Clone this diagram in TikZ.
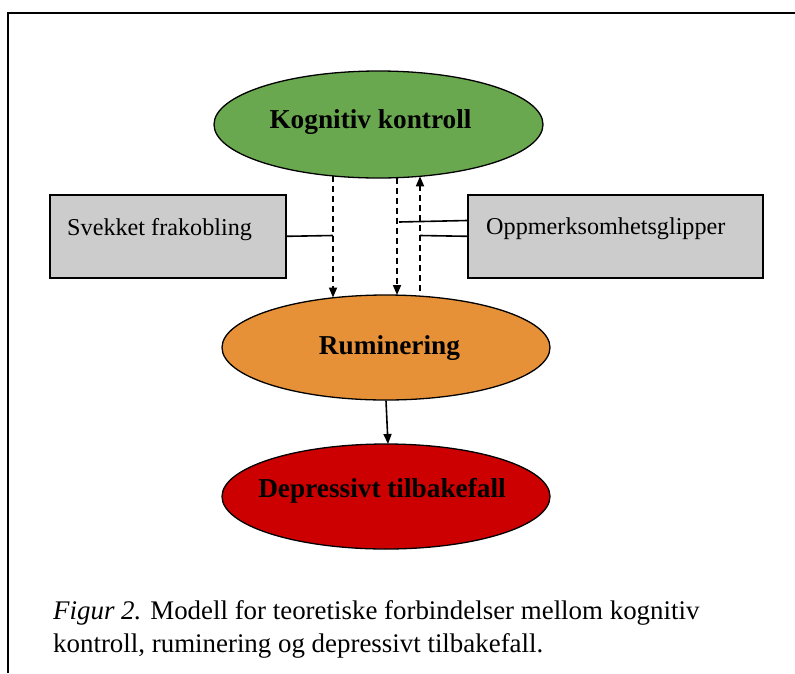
\documentclass[tikz,border=0pt]{standalone}
\usepackage{fontspec}
\setmainfont{Liberation Serif}
\usetikzlibrary{shapes.geometric,arrows.meta}
\definecolor{kgreen}{RGB}{106,168,79}
\definecolor{korange}{RGB}{230,145,56}
\definecolor{kred}{RGB}{204,0,0}
\definecolor{kgray}{RGB}{204,204,204}
\begin{document}
\begin{tikzpicture}[x=1pt,y=-1pt,
  oval/.style={ellipse,draw=black,line width=1.3pt,inner sep=0pt},
  grbox/.style={draw=black,line width=1.6pt,fill=kgray,inner sep=0pt,anchor=north west},
  bigtxt/.style={font=\fontsize{27.3}{30}\selectfont\bfseries,inner sep=0pt,anchor=base},
  boxtxt/.style={font=\fontsize{24.2}{28}\selectfont,inner sep=0pt,anchor=base west},
  captxt/.style={font=\fontsize{26.9}{33.5}\selectfont,inner sep=0pt,anchor=base west},
  dasharrow/.style={line width=1.7pt,dash pattern=on 6pt off 4pt,-{Triangle[length=10pt,width=8pt]}},
  link/.style={line width=1.6pt},
  solidarrow/.style={line width=1.6pt,-{Triangle[length=10pt,width=8pt]}}]
\useasboundingbox (0,0) rectangle (795,673);
% frame
\coordinate (fa) at (8,673);
\coordinate (fb) at (8,13);
\coordinate (fc) at (795,13);
\draw[line width=1.8pt,line join=miter] (fa) -- (fb) -- (fc);
% ellipses
\node[oval,fill=kgreen,minimum width=329pt,minimum height=107pt] (g) at (378.5,124.5) {};
\node[oval,fill=korange,minimum width=328pt,minimum height=105pt] (o) at (386,347.5) {};
\node[oval,fill=kred,minimum width=328pt,minimum height=105pt] (r) at (386,496.5) {};
\node[bigtxt] (gt) at (370.5,128) {Kognitiv kontroll};
\node[bigtxt] (ot) at (389.5,354) {Ruminering};
\node[bigtxt] (rt) at (382,497) {Depressivt tilbakefall};
% boxes
\node[grbox,minimum width=236pt,minimum height=83pt] (lb) at (49,194) {};
\node[grbox,minimum width=295pt,minimum height=83pt] (rb) at (467,194) {};
\node[boxtxt] (lbt) at (67,235) {Svekket frakobling};
\node[boxtxt] (rbt) at (486,234) {Oppmerksomhetsglipper};
% dashed arrows
\coordinate (d1s) at (333,176);
\coordinate (d1e) at (333,297.5);
\coordinate (d2s) at (397,177.7);
\coordinate (d2e) at (397,295);
\coordinate (d3s) at (420,291);
\coordinate (d3e) at (420,176.3);
\draw[dasharrow] (d1s) -- (d1e);
\draw[dasharrow] (d2s) -- (d2e);
\draw[dasharrow] (d3s) -- (d3e);
% links from boxes
\coordinate (l1) at (333,235.5);
\coordinate (r1a) at (467,220.5);
\coordinate (r1b) at (399,222);
\coordinate (r2b) at (420,235.5);
\draw[link] (lb.east) -- (l1);
\draw[link] (r1a) -- (r1b);
\draw[link] (rb.west) -- (r2b);
% solid arrow
\coordinate (se) at (388,444);
\draw[solidarrow] (o.south) -- (se);
% caption
\node[captxt] (cap1) at (53,619) {\textit{Figur 2.} Modell for teoretiske forbindelser mellom kognitiv};
\node[captxt] (cap2) at (53,652.5) {kontroll, ruminering og depressivt tilbakefall.};
\end{tikzpicture}
\end{document}
